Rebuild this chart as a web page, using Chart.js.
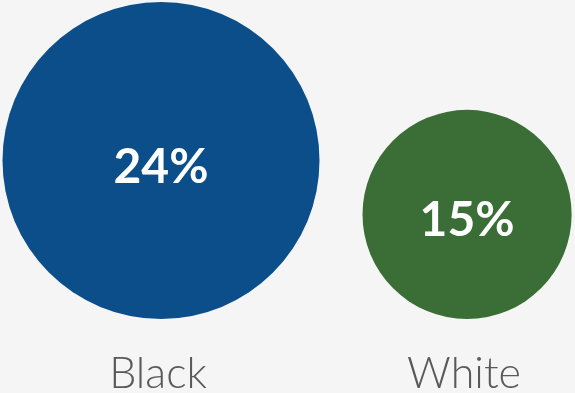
<!DOCTYPE html>
<html>
<head>
<meta charset="utf-8">
<script src="https://cdn.jsdelivr.net/npm/chart.js@4/dist/chart.umd.min.js"></script>
<style>
  body { margin: 0; background: #f5f5f5; }
  canvas { display: block; }
</style>
</head>
<body>
<canvas id="bubbles" width="575" height="393"></canvas>
<script>
// share of respondents by group
const categories = ['Black', 'White'];
const shares = [24, 15];
const colors = ['#0b4e8a', '#3a6e36'];

const W = 575, H = 393;
const baseLine = 319;      // bubbles sit on this line
const leftPad = 2.5;
const gap = 43;
const rMax = 158.5;

// bubble size grows a little slower than the value
const radii = shares.map(v => rMax * Math.pow(v / Math.max(...shares), 0.885));

// place bubbles side by side, bottoms aligned
let cursor = leftPad;
const points = shares.map((v, i) => {
    const r = radii[i];
    const p = { x: cursor + r, y: r, r: r, label: categories[i], value: v };
    cursor += 2 * r + gap;
    return p;
});

const labelPlugin = {
    id: 'bubbleLabels',
    afterDatasetsDraw(chart) {
        const ctx = chart.ctx;
        const meta = chart.getDatasetMeta(0);
        ctx.save();
        ctx.textAlign = 'center';
        ctx.textBaseline = 'alphabetic';
        meta.data.forEach((el, i) => {
            ctx.fillStyle = '#ffffff';
            ctx.font = 'bold 48px Lato';
            ctx.fillText(shares[i] + '%', el.x, el.y + 22);
            ctx.fillStyle = '#595959';
            ctx.font = '300 43px Lato';
            ctx.fillText(categories[i], el.x - 3, 388);
        });
        ctx.restore();
    }
};

new Chart(document.getElementById('bubbles'), {
    type: 'bubble',
    data: {
        datasets: [{
            data: points,
            backgroundColor: colors,
            borderWidth: 0,
            hoverBorderWidth: 0,
            clip: false
        }]
    },
    options: {
        responsive: false,
        animation: false,
        events: [],
        // bubbles are placed in pixel units, so no automatic inset
        layout: { autoPadding: false, padding: { top: 0, left: 0, right: 0, bottom: H - baseLine } },
        plugins: { legend: { display: false }, tooltip: { enabled: false } },
        scales: {
            x: { type: 'linear', min: 0, max: W, display: false },
            y: { type: 'linear', min: 0, max: baseLine, display: false }
        }
    },
    plugins: [labelPlugin]
});
</script>
</body>
</html>
